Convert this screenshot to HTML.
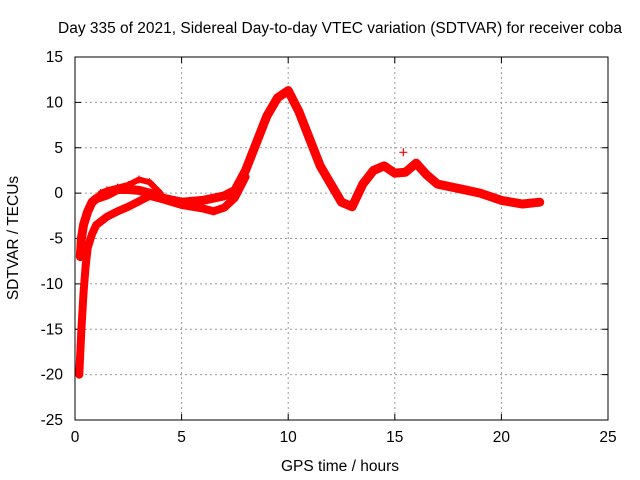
<!DOCTYPE html>
<html><head><meta charset="utf-8"><style>
body{margin:0;background:#fff;}
svg{display:block;font-family:"Liberation Sans",sans-serif;}
</style></head><body>
<svg id="c" width="640" height="480">
<text x="340" y="33" font-size="15.5" text-anchor="middle">Day 335 of 2021, Sidereal Day-to-day VTEC variation (SDTVAR) for receiver coba</text>
<text x="340" y="471" font-size="15.5" text-anchor="middle">GPS time / hours</text>
<text transform="translate(18,238) rotate(-90)" font-size="15.5" text-anchor="middle">SDTVAR / TECUs</text>
<g id="grid"></g><g id="data"></g>
<rect x="75" y="57" width="533" height="363" fill="none" stroke="#000"/>
</svg>
<script>
const xTicks=[0,5,10,15,20,25];
const yTicks=[15,10,5,0,-5,-10,-15,-20,-25];
const trackUpperH=[0.25,0.3,0.4,0.6,0.8,1,1.5,2,2.5,3,3.5,4,5,6,7,7.5,8,8.5,9,9.5,10,10.5,11,11.5,12,12.5,13,13.5,14,14.5,15,15.5,16,16.5,17,18,19,20,21,21.8];
const trackUpperV=[-7,-5,-3.5,-2,-1,-0.6,-0.2,0.4,0.4,0.3,0,-0.5,-1,-0.8,-0.3,0.3,2.5,5.5,8.5,10.5,11.3,9,6,3,1,-1,-1.5,1,2.5,3,2.2,2.3,3.3,2,1,0.5,0,-0.8,-1.2,-1];
const trackLowerH=[0.2,0.3,0.4,0.5,0.6,0.8,1,1.5,2,2.5,3,3.5,4,5,6,6.5,7,7.5,8];
const trackLowerV=[-20,-15,-11,-8,-6,-4.5,-3.5,-2.6,-2,-1.5,-0.9,-0.3,-0.6,-1.3,-1.7,-2,-1.6,-0.5,1.8];
const trackLoopH=[1.2,1.5,2,2.5,3,3.5,4];
const trackLoopV=[0,0.3,0.6,0.9,1.5,1.2,0];
const outlierH=[15.4];const outlierV=[4.5];
const X=h=>75+h*(533/25);
const Y=v=>57+(15-v)*(363/40);
const ns="http://www.w3.org/2000/svg";
const g=document.getElementById('grid'),d=document.getElementById('data'),svg=document.getElementById('c');
function mk(t,a,p){const e=document.createElementNS(ns,t);for(const k in a)e.setAttribute(k,a[k]);p.appendChild(e);return e;}
xTicks.forEach(t=>{
 if(t>0&&t<25){const l=mk('line',{x1:X(t),x2:X(t),y1:57,y2:420,stroke:'#999','stroke-dasharray':'2,3'},g);
 
 }
 const k=mk('path',{d:`M${X(t)},420v-6M${X(t)},57v6`,stroke:'#000'},g);
 
 
 const s=mk('text',{x:X(t),y:442,'font-size':15.5,'text-anchor':'middle'},svg);s.textContent=t;
 
 
});
yTicks.forEach(t=>{
 if(t<15&&t>-25){const l=mk('line',{x1:75,x2:608,y1:Y(t),y2:Y(t),stroke:'#999','stroke-dasharray':'2,3'},g);
 
 }
 const k=mk('path',{d:`M75,${Y(t)}h6M608,${Y(t)}h-6`,stroke:'#000'},g);
 
 
 const s=mk('text',{x:63,y:Y(t)+5,'font-size':15.5,'text-anchor':'end'},svg);s.textContent=t;
 
 
});
function track(H,V,name,w){
 const p=mk('polyline',{points:H.map((h,i)=>X(h)+','+Y(V[i])).join(' '),fill:'none',stroke:'#f00','stroke-width':w,'stroke-linejoin':'round','stroke-linecap':'round'},d);
 
 
 H.forEach((h,i)=>{const m=mk('path',{d:`M${X(h)-4},${Y(V[i])}h8M${X(h)},${Y(V[i])-4}v8`,stroke:'#f00','stroke-width':1.2},d);
 
 });
}
track(trackUpperH,trackUpperV,'upper-track',9);
track(trackLowerH,trackLowerV,'lower-track',8);
track(trackLoopH,trackLoopV,'loop-track',6);
track(outlierH,outlierV,'outlier-point',1);
</script>
</body></html>
